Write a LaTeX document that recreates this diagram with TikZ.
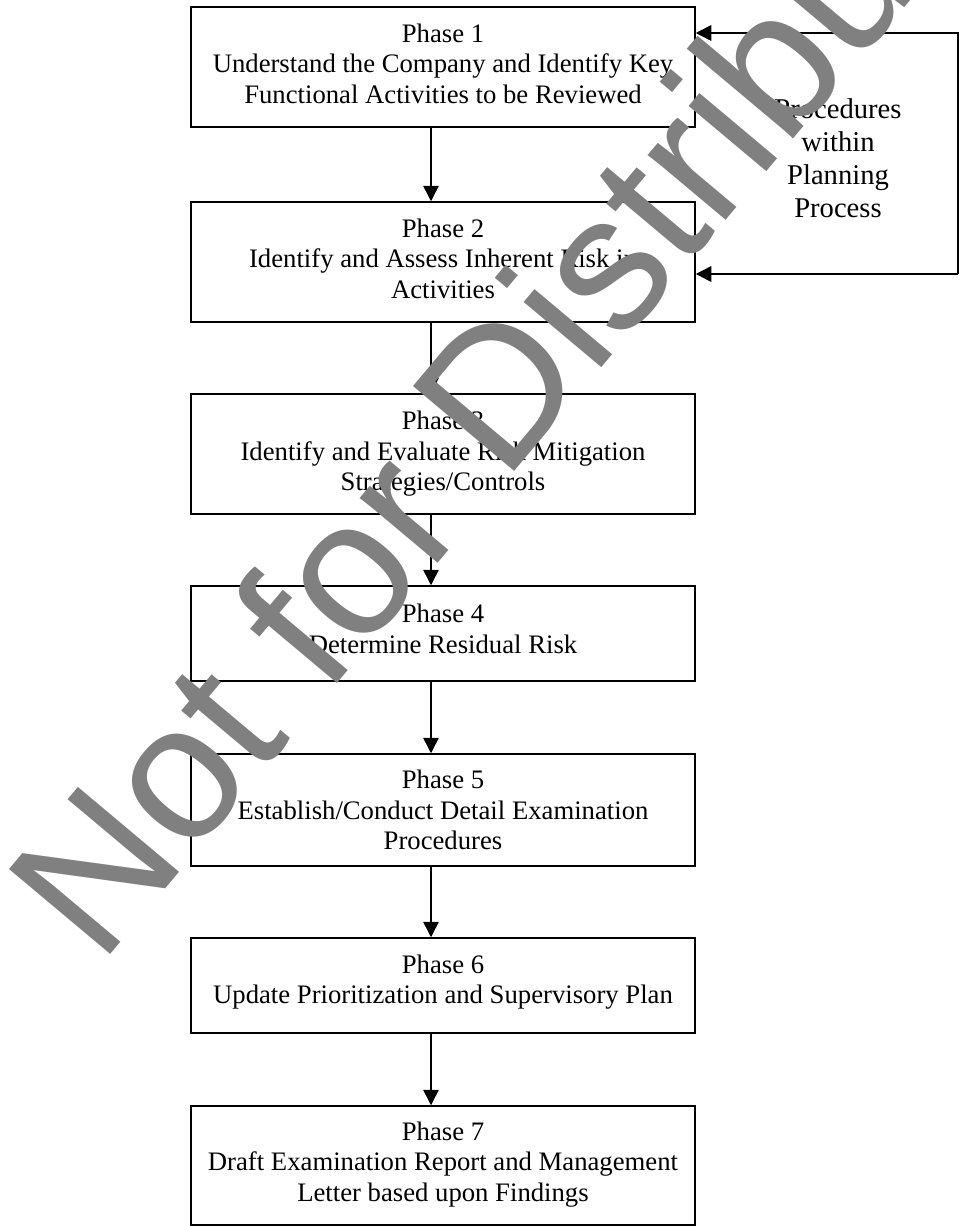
\documentclass[tikz,border=0pt]{standalone}
\usepackage{fontspec}
\setmainfont{Liberation Serif}
\newfontfamily\wmfont{Liberation Sans}
\usetikzlibrary{arrows.meta}
\definecolor{wmgray}{RGB}{128,128,128}
\begin{document}
\begin{tikzpicture}[x=1pt,y=1pt,
  phasebox/.style={draw=black, line width=1.5pt, minimum width=504pt,
    minimum height=#1, align=center, inner sep=0pt,
    font=\fontsize{26.7}{30.5}\selectfont},
  lastdepth/.style={execute at end node={\rule[-#1]{0pt}{#1}}},
  firstheight/.style={execute at begin node={\rule{0pt}{#1}}},
  conn/.style={line width=1.5pt, line join=miter,
    -{Triangle[length=15.5pt,width=15.5pt]}},
  sidelabel/.style={align=center, inner sep=0pt,
    font=\fontsize{28.6}{33}\selectfont},
  watermark/.style={rotate=50, anchor=base west, inner sep=0pt,
    outer sep=0pt, text=wmgray,
    font=\wmfont\fontsize{192}{192}\selectfont}]
\clip (0,0) rectangle (963,-1226);
\fill[white] (0,0) rectangle (963,-1226);

\node[phasebox=120pt, lastdepth=7.2pt] (p1) at (443,-67)
  {Phase 1\\Understand the Company and Identify Key\\Functional Activities to be Reviewed};
\node[phasebox=120pt, lastdepth=7.2pt] (p2) at (443,-262)
  {Phase 2\\Identify and Assess Inherent Risk in\\Activities};
\node[phasebox=120pt] (p3) at (443,-454)
  {Phase 3\\Identify and Evaluate Risk Mitigation\\Strategies/Controls};
\node[phasebox=95pt, lastdepth=10pt] (p4) at (443,-633.5)
  {Phase 4\\Determine Residual Risk};
\node[phasebox=112pt, firstheight=21pt] (p5) at (443,-810)
  {Phase 5\\Establish/Conduct Detail Examination\\Procedures};
\node[phasebox=95pt, lastdepth=12.8pt] (p6) at (443,-985.5)
  {Phase 6\\Update Prioritization and Supervisory Plan};
\node[phasebox=119pt, lastdepth=8pt] (p7) at (443,-1165.5)
  {Phase 7\\Draft Examination Report and Management\\Letter based upon Findings};

\node[sidelabel] (proc) at (838,-158) {Procedures\\within\\Planning\\Process};

\draw[conn] ([xshift=-12pt]p1.south) -- ([xshift=-12pt]p2.north);
\draw[conn] ([xshift=-12pt]p2.south) -- ([xshift=-12pt]p3.north);
\draw[conn] ([xshift=-12pt]p3.south) -- ([xshift=-12pt]p4.north);
\draw[conn] ([xshift=-12pt]p4.south) -- ([xshift=-12pt]p5.north);
\draw[conn] ([xshift=-12pt]p5.south) -- ([xshift=-12pt]p6.north);
\draw[conn] ([xshift=-12pt]p6.south) -- ([xshift=-12pt]p7.north);

\coordinate (lt) at (958,-33);
\coordinate (lb) at (958,-274);
\draw[conn] (lb) -- (lt) -- (p1.east |- lt);
\draw[conn] (lb) -- (p2.east |- lb);

\node[watermark] (wm) at (100,-966) {Not for Distribution};
\end{tikzpicture}
\end{document}
